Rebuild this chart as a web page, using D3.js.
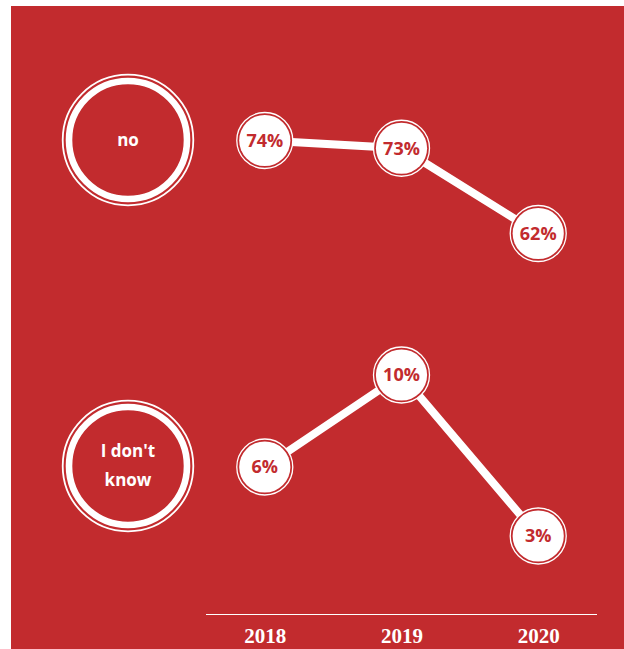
<!DOCTYPE html>
<html>
<head>
<meta charset="utf-8">
<script src="https://cdn.jsdelivr.net/npm/d3@7"></script>
<style>
  html, body { margin: 0; padding: 0; background: #ffffff; }
  svg { display: block; }
</style>
</head>
<body>
<svg id="chart" width="624" height="649"></svg>
<script>
// Survey answers by year
const years = ["2018", "2019", "2020"];
const answerLabels = [["no"], ["I don't", "know"]];
const noValues = [74, 73, 62];
const dontKnowValues = [6, 10, 3];

const W = 624, H = 649;
const RED = "#c22b2e";
const WHITE = "#ffffff";

const svg = d3.select("#chart");

// Background panel
svg.append("rect")
  .attr("x", 11).attr("y", 6)
  .attr("width", W - 11).attr("height", H - 6)
  .attr("fill", RED);

// Shared year axis
const x = d3.scalePoint().domain(years).range([206, 597]).padding(0.43);

const axisY = 614;
const axis = svg.append("g")
  .attr("transform", `translate(0,${axisY})`)
  .call(d3.axisBottom(x).tickSize(0).tickPadding(0));
axis.select(".domain")
  .attr("d", `M206,0.5H597`)
  .attr("stroke", WHITE).attr("stroke-width", 1.2);
axis.selectAll(".tick text")
  .attr("y", 29)
  .attr("dy", 0)
  .attr("fill", WHITE)
  .attr("font-family", "'Liberation Serif', 'DejaVu Serif', serif")
  .attr("font-weight", 700)
  .attr("font-size", 21);

// One row per answer, each with its own vertical scale
const rows = [
  { label: answerLabels[0], values: noValues, cy: 140, range: [233.5, 140.5] },
  { label: answerLabels[1], values: dontKnowValues, cy: 466, range: [536, 375] }
];

const labelX = 128;
const sansFont = "'Open Sans', 'Noto Sans', sans-serif";

rows.forEach(row => {
  const y = d3.scaleLinear().domain(d3.extent(row.values)).range(row.range);
  const pts = years.map((yr, i) => ({ yr, v: row.values[i] }));

  // Answer badge: thin outer ring plus a heavy inner ring
  const badge = svg.append("g").attr("transform", `translate(${labelX},${row.cy})`);
  badge.append("circle").attr("r", 65.3)
    .attr("fill", "none").attr("stroke", WHITE).attr("stroke-width", 1.8);
  badge.append("circle").attr("r", 59)
    .attr("fill", "none").attr("stroke", WHITE).attr("stroke-width", 6.6);
  const n = row.label.length;
  const lineH = 29;
  badge.selectAll("text.ans")
    .data(row.label)
    .join("text")
    .attr("class", "ans")
    .attr("x", 0)
    .attr("y", (d, i) => (i - (n - 1) / 2) * lineH)
    .attr("dy", "0.35em")
    .attr("text-anchor", "middle")
    .attr("fill", WHITE)
    .attr("font-family", sansFont)
    .attr("font-weight", 700)
    .attr("font-size", 17)
    .text(d => d);

  // Trend line
  svg.append("path")
    .datum(pts)
    .attr("fill", "none")
    .attr("stroke", WHITE)
    .attr("stroke-width", 8)
    .attr("d", d3.line().x(d => x(d.yr)).y(d => y(d.v)));

  // Value markers
  const m = svg.append("g").selectAll("g")
    .data(pts)
    .join("g")
    .attr("transform", d => `translate(${x(d.yr)},${y(d.v)})`);
  m.append("circle").attr("r", 28)
    .attr("fill", RED).attr("stroke", WHITE).attr("stroke-width", 1.3);
  m.append("circle").attr("r", 25.6).attr("fill", WHITE);
  m.append("text")
    .attr("text-anchor", "middle")
    .attr("dy", "0.36em")
    .attr("fill", RED)
    .attr("font-family", sansFont)
    .attr("font-weight", 700)
    .attr("font-size", 18)
    .text(d => d.v + "%");
});
</script>
</body>
</html>
